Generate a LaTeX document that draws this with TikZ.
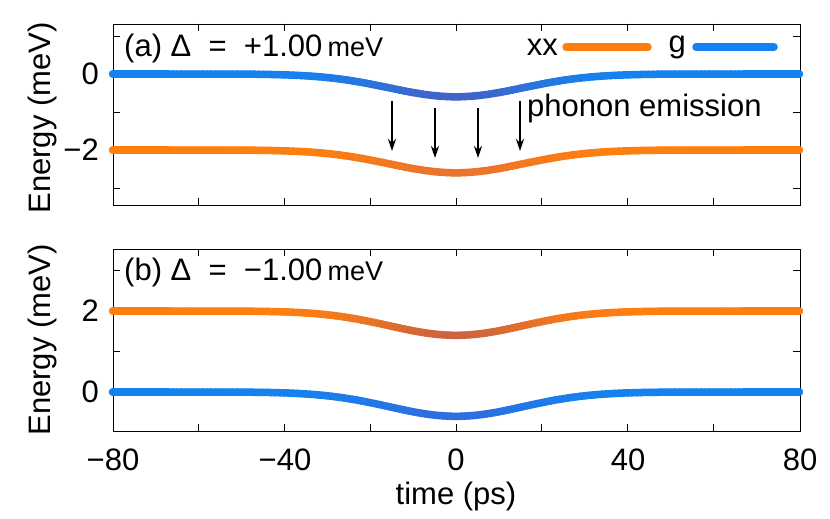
\documentclass[tikz,border=0pt]{standalone}
\usepackage{fontspec}
\usetikzlibrary{arrows.meta}
\setmainfont{Liberation Sans}
\definecolor{cor}{RGB}{255,127,14}
\definecolor{cbl}{RGB}{20,130,240}
\definecolor{cblA}{RGB}{65,100,200}
\definecolor{corA}{RGB}{235,115,45}
\definecolor{corB}{RGB}{205,100,60}
\definecolor{cblB}{RGB}{45,110,225}
\newcommand{\mycurve}[6]{% y0, scale, E0, colstart, colcenter
  \foreach \t in {-80,...,79}{
    \pgfmathsetmacro{\ta}{\t}\pgfmathsetmacro{\tb}{\t+1}
    \pgfmathsetmacro{\ea}{#3-0.6*exp(-(\ta/22)^2)}
    \pgfmathsetmacro{\eb}{#3-0.6*exp(-(\tb/22)^2)}
    \pgfmathsetmacro{\pc}{100*exp(-((\ta+0.5)/22)^2)}
    \colorlet{tmpc}{#5!\pc!#4}
    \draw[tmpc,line width=7.5pt,line cap=round] (456+\ta*4.29375,#1-#2*\ea) -- (456+\tb*4.29375,#1-#2*\eb);
  }}
\begin{document}
\begin{tikzpicture}[x=1pt,y=-1pt,
  lab/.style={font=\fontsize{31}{33}\selectfont,inner sep=0pt},
  tick/.style={line width=0.8pt},
  arr/.style={-{Stealth[length=12pt,width=8pt]},line width=1.8pt}]
\useasboundingbox (0,0) rectangle (830,519);
% panel frames
\draw[line width=0.9pt] (113,24) rectangle (800,205);
\draw[line width=0.9pt] (113,249) rectangle (800,431);
% x ticks
\foreach \t in {-60,-40,...,60}{
  \pgfmathsetmacro{\xx}{456+\t*4.29375}
  \draw[tick] (\xx,24) -- ++(0,7); \draw[tick] (\xx,205) -- ++(0,-7);
  \draw[tick] (\xx,249) -- ++(0,7); \draw[tick] (\xx,431) -- ++(0,-7);}
% y ticks
\foreach \e in {1,0,-1,-2,-3}{
  \pgfmathsetmacro{\yy}{74-38*\e}
  \draw[tick] (113,\yy) -- ++(7,0); \draw[tick] (800,\yy) -- ++(-7,0);}
\foreach \e in {3,2,1,0}{
  \pgfmathsetmacro{\yy}{392-40.5*\e}
  \draw[tick] (113,\yy) -- ++(7,0); \draw[tick] (800,\yy) -- ++(-7,0);}
% curves
\mycurve{74}{38}{0}{cbl}{cblA}{}
\mycurve{74}{38}{-2}{cor}{corA}{}
\mycurve{392}{40.5}{2}{cor}{corB}{}
\mycurve{392}{40.5}{0}{cbl}{cblB}{}
% tick labels
\node[lab,anchor=east] (ya0) at (99,74) {0};
\node[lab,anchor=east] (ya2) at (99,150) {−2};
\node[lab,anchor=east] (yb2) at (99,311) {2};
\node[lab,anchor=east] (yb0) at (99,392) {0};
\node[lab] (x1) at (113,460) {−80};
\node[lab] (x2) at (285,460) {−40};
\node[lab] (x3) at (456,460) {0};
\node[lab] (x4) at (628,460) {40};
\node[lab] (x5) at (800,460) {80};
\node[lab] (xt) at (456,496) {time (ps)};
\node[lab,rotate=90] (ea) at (42,118) {Energy (meV)};
\node[lab,rotate=90] (eb) at (42,340) {Energy (meV)};
% panel titles
\node[lab,anchor=west] (ta) at (124,48) {(a) Δ\;\;=\;\;+1.00\,{\fontsize{27}{28}\selectfont meV}};
\node[lab,anchor=west] (tb) at (124,272) {(b) Δ\;\;=\;\;−1.00\,{\fontsize{27}{28}\selectfont meV}};
% legend
\node[lab,anchor=east] (lxx) at (558,47) {xx};
\coordinate (lx1) at (566,47); \coordinate (lx2) at (648,47);
\draw[cor,line width=7.5pt,line cap=round] (lx1) -- (lx2);
\node[lab,anchor=east] (lg) at (686,47) {g};
\coordinate (lg1) at (696,47); \coordinate (lg2) at (774,47);
\draw[cbl,line width=7.5pt,line cap=round] (lg1) -- (lg2);
% arrows
\node[lab,anchor=west] (pe) at (527,108) {phonon emission};
\coordinate (a1s) at (392,101); \coordinate (a1e) at (392,151);
\coordinate (a2s) at (435,108); \coordinate (a2e) at (435,158);
\coordinate (a3s) at (478,108); \coordinate (a3e) at (478,158);
\coordinate (a4s) at (520,101); \coordinate (a4e) at (520,151);
\draw[arr] (a1s) -- (a1e); \draw[arr] (a2s) -- (a2e);
\draw[arr] (a3s) -- (a3e); \draw[arr] (a4s) -- (a4e);
\end{tikzpicture}
\end{document}
